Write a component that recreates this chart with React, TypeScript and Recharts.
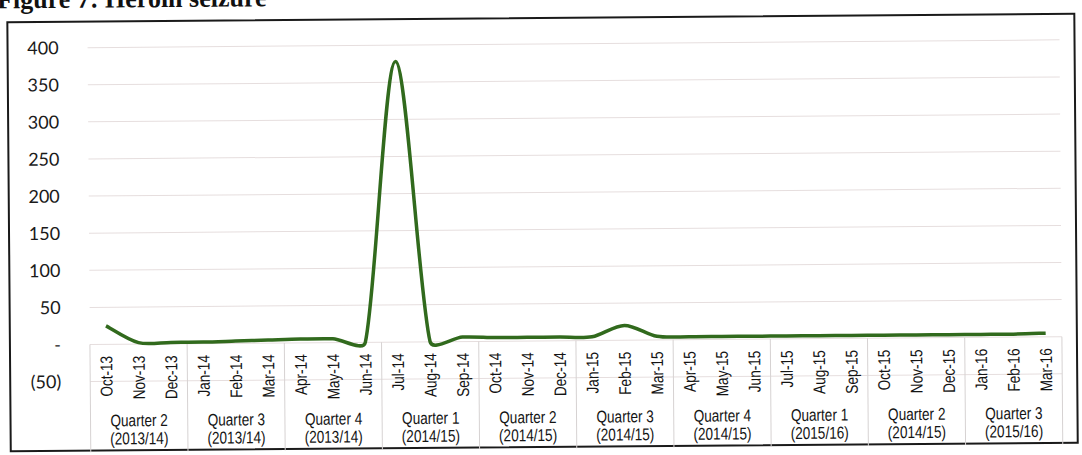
import React from "react";
import { LineChart, Line, XAxis, YAxis, CartesianGrid, ReferenceLine } from "recharts";

const months = [
  "Oct-13", "Nov-13", "Dec-13", "Jan-14", "Feb-14", "Mar-14",
  "Apr-14", "May-14", "Jun-14", "Jul-14", "Aug-14", "Sep-14",
  "Oct-14", "Nov-14", "Dec-14", "Jan-15", "Feb-15", "Mar-15",
  "Apr-15", "May-15", "Jun-15", "Jul-15", "Aug-15", "Sep-15",
  "Oct-15", "Nov-15", "Dec-15", "Jan-16", "Feb-16", "Mar-16",
];

const seizures = [
  25, 2, 2, 2, 3, 4,
  5, 5, 0, 378, 0, 6,
  5, 5, 5, 5, 20, 5,
  4, 4, 4, 4, 4, 4,
  4, 4, 4, 4, 4, 5,
];

const quarterNames = [
  "Quarter 2", "Quarter 3", "Quarter 4", "Quarter 1", "Quarter 2",
  "Quarter 3", "Quarter 4", "Quarter 1", "Quarter 2", "Quarter 3",
];
const quarterYears = [
  "(2013/14)", "(2013/14)", "(2013/14)", "(2014/15)", "(2014/15)",
  "(2014/15)", "(2014/15)", "(2015/16)", "(2014/15)", "(2015/16)",
];

const yTicks = [-50, 0, 50, 100, 150, 200, 250, 300, 350, 400];
const Y_MIN = -50;
const Y_MAX = 400;
const BOX_BOTTOM = -145;

const chartData = months.map((m, i) => ({ idx: i, month: m, value: seizures[i] }));
const boundaries = Array.from({ length: months.length / 3 + 1 }, (_, k) => k * 3 - 0.5);

const W = 1082;
const H = 455;
const M_TOP = 44;
const X_AX_H = 77;
const PLOT_H = H - M_TOP - X_AX_H;
const perUnit = PLOT_H / (Y_MAX - Y_MIN);
const zeroY = M_TOP + Y_MAX * perUnit;

const LABEL_FONT = "'Liberation Sans', Arial, sans-serif";
const LABEL_SIZE = 17;
const NARROW_SCALE = 0.8;
const ALPHA = 0.3;

const excelSmooth = (ctx: any) => {
  let pts: number[][] = [];
  return {
    areaStart() {},
    areaEnd() {},
    lineStart() {
      pts = [];
    },
    point(x: number, y: number) {
      pts.push([+x, +y]);
    },
    lineEnd() {
      const n = pts.length;
      if (!n) return;
      ctx.moveTo(pts[0][0], pts[0][1]);
      if (n === 1) return;
      const tan = pts.map((_, i) => {
        const a = pts[Math.max(0, i - 1)];
        const b = pts[Math.min(n - 1, i + 1)];
        return [(b[0] - a[0]) / 6, (b[1] - a[1]) / 6];
      });
      for (let i = 0; i < n - 1; i++) {
        const p = pts[i];
        const q = pts[i + 1];
        const lim = ALPHA * Math.hypot(q[0] - p[0], q[1] - p[1]);
        const clamp = (t: number[]) => {
          const l = Math.hypot(t[0], t[1]);
          return l > lim && l > 0 ? [(t[0] * lim) / l, (t[1] * lim) / l] : t;
        };
        const t1 = clamp(tan[i]);
        const t2 = clamp(tan[i + 1]);
        ctx.bezierCurveTo(p[0] + t1[0], p[1] + t1[1], q[0] - t2[0], q[1] - t2[1], q[0], q[1]);
      }
    },
  };
};

const MonthTick = (props: any) => {
  const { x, payload } = props;
  const idx = payload.value as number;
  const labelTop = zeroY + 11.5;
  const q = Math.floor(idx / 3);
  return (
    <g>
      <text
        transform={`translate(${x + 6}, ${labelTop}) rotate(-90) scale(${NARROW_SCALE}, 1)`}
        textAnchor="end"
        fontFamily={LABEL_FONT}
        fontSize={LABEL_SIZE}
        fill="#141414"
      >
        {months[idx]}
      </text>
      {idx % 3 === 1 && (
        <text
          transform={`translate(${x}, 0) scale(${NARROW_SCALE}, 1)`}
          textAnchor="middle"
          fontFamily={LABEL_FONT}
          fontSize={LABEL_SIZE}
          fill="#141414"
        >
          <tspan x={0} y={423}>{quarterNames[q]}</tspan>
          <tspan x={0} y={441}>{quarterYears[q]}</tspan>
        </text>
      )}
    </g>
  );
};

const fmtY = (v: number) => (v === 0 ? "-" : v < 0 ? `(${-v})` : String(v));

export default function App() {
  return (
    <div style={{ position: "absolute", left: 0, top: 0, width: W, height: H, overflow: "hidden", background: "#fff" }}>
      <div
        style={{
          position: "absolute",
          left: 0,
          top: 0,
          width: W,
          height: H,
          transform: "rotate(-0.46deg)",
          transformOrigin: "541px 227px",
        }}
      >
        <div
          style={{
            position: "absolute",
            left: -1,
            top: -17,
            fontFamily: "'Liberation Serif', 'Times New Roman', serif",
            fontWeight: "bold",
            fontSize: 26,
            lineHeight: "26px",
            whiteSpace: "nowrap",
            color: "#111",
          }}
        >
          Figure 7: Heroin seizure
        </div>
        <div
          style={{
            position: "absolute",
            left: 8,
            top: 17,
            width: 1069,
            height: 431,
            border: "2px solid #1a1a1a",
            boxSizing: "border-box",
          }}
        />
        <div style={{ position: "absolute", left: 0, top: 0 }}>
          <LineChart width={W} height={H} data={chartData} margin={{ top: M_TOP, right: 21, bottom: 0, left: 0 }}>
            <CartesianGrid vertical={false} stroke="#e6dede" />
            <XAxis
              type="number"
              dataKey="idx"
              domain={[-0.5, months.length - 0.5]}
              ticks={chartData.map((d) => d.idx)}
              interval={0}
              tick={<MonthTick />}
              axisLine={false}
              tickLine={false}
              height={X_AX_H}
            />
            <YAxis
              domain={[Y_MIN, Y_MAX]}
              ticks={yTicks}
              tickFormatter={fmtY}
              width={89}
              axisLine={false}
              tickLine={false}
              tickSize={0}
              tickMargin={29}
              tick={{ fontFamily: "Lato, 'Open Sans', sans-serif", fontSize: 18, fill: "#1a1a1a" }}
              interval={0}
            />
            {boundaries.map((b) => (
              <ReferenceLine
                key={b}
                segment={[
                  { x: b, y: 0 },
                  { x: b, y: BOX_BOTTOM },
                ]}
                stroke="#d6d2d2"
                strokeWidth={1}
                ifOverflow="visible"
              />
            ))}
            <Line
              type={excelSmooth as any}
              dataKey="value"
              stroke="#316a1d"
              strokeWidth={3.5}
              dot={false}
              isAnimationActive={false}
            />
          </LineChart>
        </div>
      </div>
    </div>
  );
}
